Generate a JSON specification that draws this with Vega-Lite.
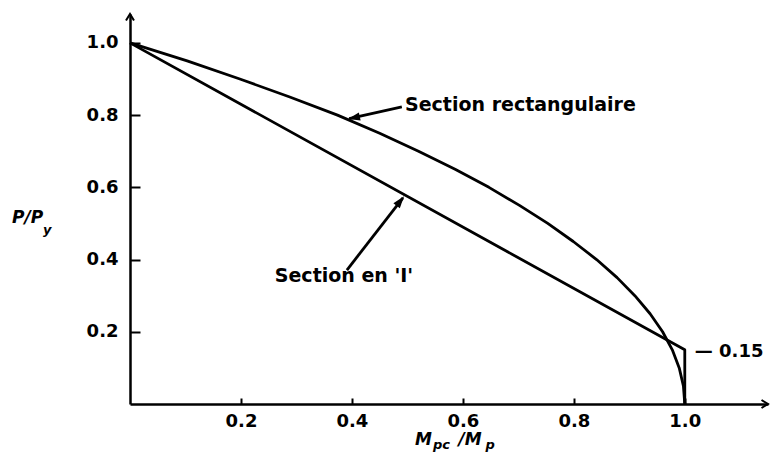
{
  "$schema": "https://vega.github.io/schema/vega-lite/v6.json",
  "width": 638,
  "height": 390,
  "autosize": {"type": "none"},
  "padding": {"left": 130, "top": 14, "right": 7, "bottom": 51},
  "background": "white",
  "config": {"view": {"stroke": null}, "font": "DejaVu Sans"},
  "datasets": {
    "curves": [
      {"series": "rect", "i": 0, "m": 0.0, "p": 1.0},
      {"series": "rect", "i": 1, "m": 0.103, "p": 0.95},
      {"series": "rect", "i": 2, "m": 0.198, "p": 0.9},
      {"series": "rect", "i": 3, "m": 0.288, "p": 0.85},
      {"series": "rect", "i": 4, "m": 0.374, "p": 0.8},
      {"series": "rect", "i": 5, "m": 0.45, "p": 0.75},
      {"series": "rect", "i": 6, "m": 0.52, "p": 0.7},
      {"series": "rect", "i": 7, "m": 0.586, "p": 0.65},
      {"series": "rect", "i": 8, "m": 0.647, "p": 0.6},
      {"series": "rect", "i": 9, "m": 0.702, "p": 0.55},
      {"series": "rect", "i": 10, "m": 0.753, "p": 0.5},
      {"series": "rect", "i": 11, "m": 0.799, "p": 0.45},
      {"series": "rect", "i": 12, "m": 0.841, "p": 0.4},
      {"series": "rect", "i": 13, "m": 0.878, "p": 0.35},
      {"series": "rect", "i": 14, "m": 0.91, "p": 0.3},
      {"series": "rect", "i": 15, "m": 0.9375, "p": 0.25},
      {"series": "rect", "i": 16, "m": 0.96, "p": 0.2},
      {"series": "rect", "i": 17, "m": 0.9775, "p": 0.15},
      {"series": "rect", "i": 18, "m": 0.99, "p": 0.1},
      {"series": "rect", "i": 19, "m": 0.9975, "p": 0.05},
      {"series": "rect", "i": 20, "m": 1.0, "p": 0.0},
      {"series": "I", "i": 0, "m": 0.0, "p": 1.0},
      {"series": "I", "i": 1, "m": 1.0, "p": 0.15},
      {"series": "I", "i": 2, "m": 1.0, "p": 0.0}
    ],
    "shafts": [
      {"m": 0.49, "p": 0.8225, "m2": 0.395, "p2": 0.79},
      {"m": 0.391, "p": 0.371, "m2": 0.492, "p2": 0.571}
    ],
    "labels": [
      {"m": 0.4957, "p": 0.811, "text": "Section rectangulaire"},
      {"m": 0.261, "p": 0.338, "text": "Section en 'I'"}
    ],
    "tick015": [{"m": 1.018, "p": 0.13, "text": "— 0.15"}],
    "titleMain": [
      {"m": -0.2126, "p": 0.5, "text": "P/P"},
      {"m": 0.5135, "p": -0.1134, "text": "M"},
      {"m": 0.592, "p": -0.1134, "text": "/M"}
    ],
    "titleSub": [
      {"m": -0.157, "p": 0.47, "text": "y"},
      {"m": 0.546, "p": -0.1245, "text": "pc"},
      {"m": 0.641, "p": -0.1245, "text": "p"}
    ]
  },
  "layer": [
    {
      "data": {"name": "curves"},
      "mark": {"type": "line", "color": "black", "strokeWidth": 2.8, "strokeJoin": "round"},
      "encoding": {
        "x": {
          "field": "m", "type": "quantitative", "title": null,
          "scale": {"domain": [0, 1.15], "nice": false, "zero": false},
          "axis": {
            "values": [0.2, 0.4, 0.6, 0.8, 1.0], "format": ".1f", "grid": false,
            "domainColor": "black", "domainWidth": 2.5, "tickColor": "black", "tickWidth": 2,
            "tickSize": -6, "labelPadding": 14, "labelFont": "DejaVu Sans", "labelFontWeight": "bold",
            "labelFontSize": 18, "labelColor": "black"
          }
        },
        "y": {
          "field": "p", "type": "quantitative", "title": null,
          "scale": {"domain": [0, 1.08], "nice": false, "zero": false},
          "axis": {
            "values": [0.2, 0.4, 0.6, 0.8, 1.0], "format": ".1f", "grid": false,
            "domainColor": "black", "domainWidth": 2.5, "tickColor": "black", "tickWidth": 2,
            "tickSize": -10, "labelPadding": 22, "labelFont": "DejaVu Sans", "labelFontWeight": "bold",
            "labelFontSize": 18, "labelColor": "black"
          }
        },
        "detail": {"field": "series"},
        "order": {"field": "i", "type": "quantitative"}
      }
    },
    {
      "data": {"name": "shafts"},
      "mark": {"type": "rule", "color": "black", "strokeWidth": 2.8},
      "encoding": {
        "x": {"field": "m", "type": "quantitative", "title": null},
        "y": {"field": "p", "type": "quantitative", "title": null},
        "x2": {"field": "m2"},
        "y2": {"field": "p2"}
      }
    },
    {
      "data": {"values": [{"m": 0.393, "p": 0.789}]},
      "mark": {"type": "point", "shape": "M0,0L-0.55,1.6L0.55,1.6Z", "size": 225, "filled": true, "color": "black", "opacity": 1, "angle": 257.5},
      "encoding": {
        "x": {"field": "m", "type": "quantitative", "title": null},
        "y": {"field": "p", "type": "quantitative", "title": null}
      }
    },
    {
      "data": {"values": [{"m": 0.494, "p": 0.575}]},
      "mark": {"type": "point", "shape": "M0,0L-0.55,1.6L0.55,1.6Z", "size": 225, "filled": true, "color": "black", "opacity": 1, "angle": 38.4},
      "encoding": {
        "x": {"field": "m", "type": "quantitative", "title": null},
        "y": {"field": "p", "type": "quantitative", "title": null}
      }
    },
    {
      "data": {"values": [{"m": 0, "p": 1.08}]},
      "mark": {"type": "point", "shape": "M-0.8,1.3L0,0L0.8,1.3", "size": 100, "filled": false, "color": "black", "strokeWidth": 2, "opacity": 1, "angle": 0},
      "encoding": {
        "x": {"field": "m", "type": "quantitative", "title": null},
        "y": {"field": "p", "type": "quantitative", "title": null}
      }
    },
    {
      "data": {"values": [{"m": 1.15, "p": 0}]},
      "mark": {"type": "point", "shape": "M-0.8,1.3L0,0L0.8,1.3", "size": 100, "filled": false, "color": "black", "strokeWidth": 2, "opacity": 1, "angle": 90},
      "encoding": {
        "x": {"field": "m", "type": "quantitative", "title": null},
        "y": {"field": "p", "type": "quantitative", "title": null}
      }
    },
    {
      "data": {"name": "labels"},
      "mark": {"type": "text", "align": "left", "baseline": "alphabetic", "font": "DejaVu Sans", "fontWeight": "bold", "fontSize": 19, "color": "black"},
      "encoding": {
        "x": {"field": "m", "type": "quantitative", "title": null},
        "y": {"field": "p", "type": "quantitative", "title": null},
        "text": {"field": "text"}
      }
    },
    {
      "data": {"name": "tick015"},
      "mark": {"type": "text", "align": "left", "baseline": "alphabetic", "font": "DejaVu Sans", "fontWeight": "bold", "fontSize": 18, "color": "black"},
      "encoding": {
        "x": {"field": "m", "type": "quantitative", "title": null},
        "y": {"field": "p", "type": "quantitative", "title": null},
        "text": {"field": "text"}
      }
    },
    {
      "data": {"name": "titleMain"},
      "mark": {"type": "text", "align": "left", "baseline": "alphabetic", "font": "DejaVu Sans", "fontWeight": "bold", "fontStyle": "italic", "fontSize": 17, "color": "black"},
      "encoding": {
        "x": {"field": "m", "type": "quantitative", "title": null},
        "y": {"field": "p", "type": "quantitative", "title": null},
        "text": {"field": "text"}
      }
    },
    {
      "data": {"name": "titleSub"},
      "mark": {"type": "text", "align": "left", "baseline": "alphabetic", "font": "DejaVu Sans", "fontWeight": "bold", "fontStyle": "italic", "fontSize": 13, "color": "black"},
      "encoding": {
        "x": {"field": "m", "type": "quantitative", "title": null},
        "y": {"field": "p", "type": "quantitative", "title": null},
        "text": {"field": "text"}
      }
    }
  ]
}
